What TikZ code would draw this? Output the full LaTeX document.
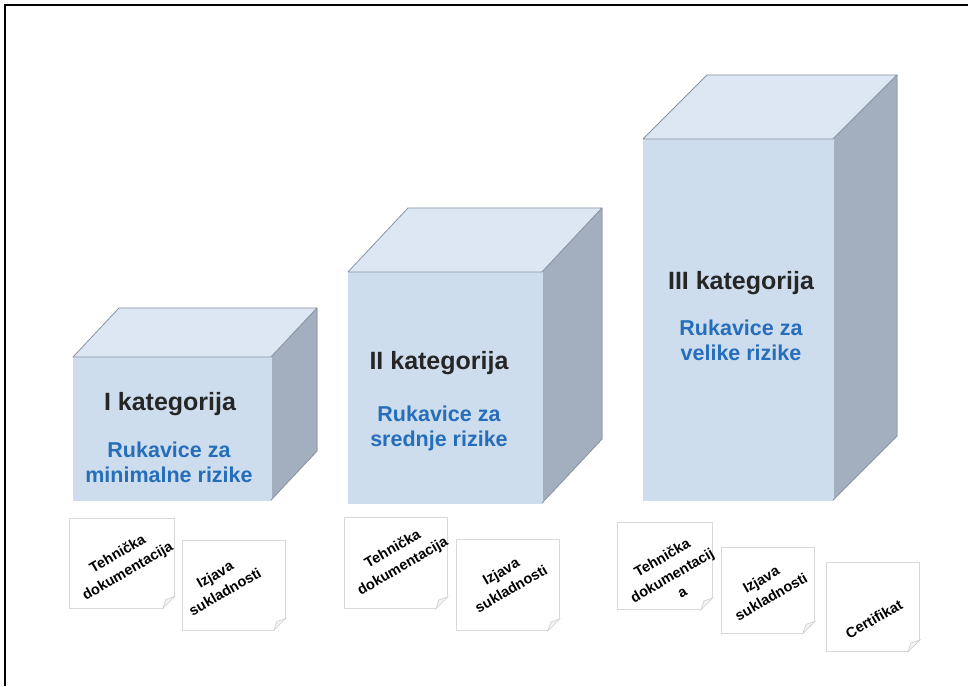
\documentclass[tikz,border=0pt]{standalone}
\usepackage{fontspec}
\setmainfont{Liberation Sans}
\usepackage{tikz}
\usetikzlibrary{positioning,calc}

\definecolor{frontblue}{RGB}{206,221,237}
\definecolor{topblue}{RGB}{220,231,243}
\definecolor{sidegray}{RGB}{163,175,190}
\definecolor{edgegray}{RGB}{140,150,162}
\definecolor{textblue}{RGB}{38,110,186}

\begin{document}
\begin{tikzpicture}[x=1pt,y=-1pt,
	face/.style={draw=edgegray,line width=0.8pt,line join=round},
	cat/.style={font=\fontsize{25}{29}\selectfont\bfseries,text=black!85},
	risk/.style={font=\fontsize{21.5}{25}\selectfont\bfseries,text=textblue,align=center},
	paper/.style={draw=black!15,fill=white,line width=0.8pt,inner sep=0pt},
	fold/.style={draw=black!18,fill=black!5,line width=0.6pt},
	doctext/.style={font=\fontsize{14.5}{20}\selectfont\bfseries,align=center,rotate=30}]
			\useasboundingbox (0,0) rectangle (968,686);
			\draw[line width=2pt] (5,686) -- (5,5) -- (968,5);
			
			% kocke
			\fill[face,topblue] (73,357) -- (119,308) -- (317,308) -- (271,357) -- cycle;
			\fill[face,sidegray] (271,357) -- (317,308) -- (317,451) -- (271,500) -- cycle;
			\fill[face,frontblue] (73,357) rectangle (271,500);
			\draw[face] (73,357) -- (119,308) -- (317,308) -- (271,357) -- cycle;
			\draw[face] (317,308) -- (317,451) -- (271,500);
			
			\fill[face,topblue] (348,272) -- (408,208) -- (602,208) -- (542,272) -- cycle;
			\fill[face,sidegray] (542,272) -- (602,208) -- (602,439) -- (542,503) -- cycle;
			\fill[face,frontblue] (348,272) rectangle (542,503);
			\draw[face] (348,272) -- (408,208) -- (602,208) -- (542,272) -- cycle;
			\draw[face] (602,208) -- (602,439) -- (542,503);
			
			\fill[face,topblue] (643,139) -- (707,75) -- (897,75) -- (833,139) -- cycle;
			\fill[face,sidegray] (833,139) -- (897,75) -- (897,436) -- (833,500) -- cycle;
			\fill[face,frontblue] (643,139) rectangle (833,500);
			\draw[face] (643,139) -- (707,75) -- (897,75) -- (833,139) -- cycle;
			\draw[face] (897,75) -- (897,436) -- (833,500);
			
			\node[cat] (cat-1) at (170,404) {I kategorija};
			\node[risk] (risk-1) at (169,462) {Rukavice za\\minimalne rizike};
			\node[cat] (cat-2) at (439,363) {II kategorija};
			\node[risk] (risk-2) at (439,428) {Rukavice za\\srednje rizike};
			\node[cat] (cat-3) at (741,283) {III kategorija};
			\node[risk] (risk-3) at (741,340) {Rukavice za\\velike rizike};
			
			% dokumenti
			\node[paper,minimum width=105,minimum height=90] (doc-1a) at (122,563) {};
			\node[paper,minimum width=103,minimum height=90] (doc-1b) at (234,585) {};
			\node[paper,minimum width=103,minimum height=91] (doc-2a) at (396,563) {};
			\node[paper,minimum width=103,minimum height=91] (doc-2b) at (508,585) {};
			\node[paper,minimum width=95,minimum height=87] (doc-3a) at (665,566) {};
			\node[paper,minimum width=93,minimum height=86] (doc-3b) at (768,590) {};
			\node[paper,minimum width=93,minimum height=89] (doc-3c) at (873,607) {};
			\foreach \d in {1a,1b,2a,2b,3a,3b,3c}
			{
				\fill[white] ($(doc-\d.south east)+(0.5,-12)$) -- ($(doc-\d.south east)+(0.5,0.5)$) -- ($(doc-\d.south east)+(-12,0.5)$) -- cycle;
				\draw[fold] ($(doc-\d.south east)+(0,-12)$) -- ($(doc-\d.south east)+(-9,-9)$) -- ($(doc-\d.south east)+(-12,0)$) -- cycle;
			}
			
			\node[doctext] (txt-1a) at (123,563) {Tehnička\\dokumentacija};
			\node[doctext] (txt-1b) at (220,583) {Izjava\\sukladnosti};
			\node[doctext] (txt-2a) at (398,558) {Tehnička\\dokumentacija};
			\node[doctext] (txt-2b) at (506,580) {Izjava\\sukladnosti};
			\node[doctext] (txt-3a) at (672,575) {Tehnička\\dokumentacij\\a};
			\node[doctext] (txt-3b) at (766,588) {Izjava\\sukladnosti};
			\node[doctext] (txt-3c) at (874,619) {Certifikat};
\end{tikzpicture}
\end{document}
